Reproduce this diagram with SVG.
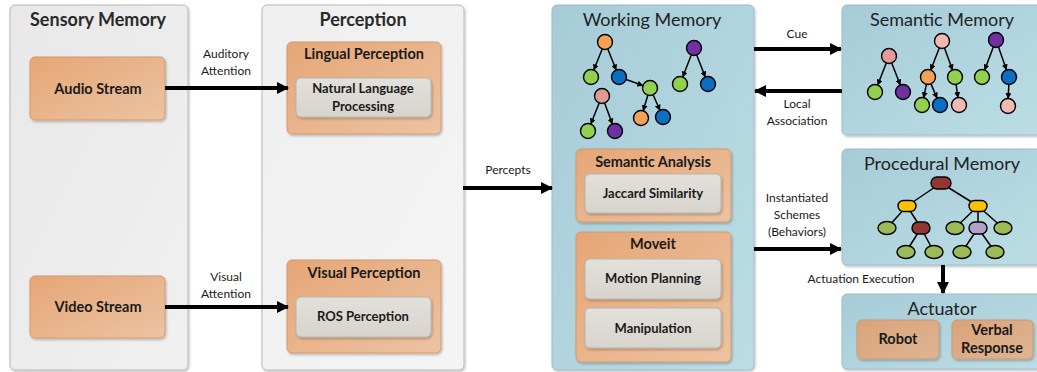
<svg xmlns="http://www.w3.org/2000/svg" width="1037" height="372" viewBox="0 0 1037 372">
<defs>
<linearGradient id="gGray" x1="0" y1="0" x2="1" y2="1"><stop offset="0" stop-color="#e8e8e8"/><stop offset="1" stop-color="#f0f0f0"/></linearGradient>
<linearGradient id="gLight" x1="0" y1="0" x2="1" y2="1"><stop offset="0" stop-color="#efefef"/><stop offset="1" stop-color="#f4f4f4"/></linearGradient>
<linearGradient id="gOrange" x1="0" y1="0" x2="1" y2="1"><stop offset="0" stop-color="#e6a676"/><stop offset="1" stop-color="#ecc3a2"/></linearGradient>
<linearGradient id="gOrange2" x1="0" y1="0" x2="1" y2="1"><stop offset="0" stop-color="#d9a37a"/><stop offset="1" stop-color="#dfb592"/></linearGradient>
<linearGradient id="gInner" x1="0" y1="0" x2="0" y2="1"><stop offset="0" stop-color="#e2e0da"/><stop offset="1" stop-color="#d6d4cc"/></linearGradient>
<linearGradient id="gBlue" x1="0" y1="0" x2="1" y2="1"><stop offset="0" stop-color="#a6ccd8"/><stop offset="1" stop-color="#bcdde5"/></linearGradient>
<filter id="sh" x="-10%" y="-10%" width="120%" height="130%"><feDropShadow dx="1" dy="1.5" stdDeviation="1" flood-color="#000" flood-opacity="0.25"/></filter>
<marker id="big" viewBox="0 0 12 12" refX="11" refY="6" markerWidth="12" markerHeight="12" markerUnits="userSpaceOnUse" orient="auto"><path d="M0,0 L12,6 L0,12 Z" fill="#000"/></marker>
<marker id="sm" viewBox="0 0 6 6" refX="5.5" refY="3" markerWidth="6" markerHeight="6" markerUnits="userSpaceOnUse" orient="auto"><path d="M0,0 L6,3 L0,6 Z" fill="#000"/></marker>
</defs>
<style>
.panel{stroke:#b8b8b8;stroke-width:1;filter:url(#sh)}
.bpanel{stroke:#9fbcc6;stroke-width:1;filter:url(#sh)}
.obox{fill:url(#gOrange);stroke:#d19a72;stroke-width:1;filter:url(#sh)}
.obox2{fill:url(#gOrange2);stroke:#c99a78;stroke-width:1;filter:url(#sh)}
.ibox{fill:url(#gInner);stroke:#b8b6ae;stroke-width:1;filter:url(#sh)}
text{font-family:Lato,"Liberation Sans",sans-serif;fill:#1a1a1a;text-anchor:middle}
.ttl{font-size:18px;font-weight:bold;fill:#2a2a2a}
.ttl2{font-size:18px;fill:#222}
.sub{font-size:14.5px;font-weight:bold}
.in{font-size:13px;font-weight:bold}
.lbl{font-size:12px}
.conn{stroke:#000;stroke-width:4;fill:none;marker-end:url(#big)}
.ta{stroke:#000;stroke-width:1.5;fill:none;marker-end:url(#sm)}
.tl{stroke:#000;stroke-width:1.5;fill:none}
.n{stroke:#000;stroke-width:1.4}
.or{fill:#f4a055}.gr{fill:#92d050}.bl{fill:#0a6fc2}.pu{fill:#7030a0}.pk{fill:#e39a96}.pk2{fill:#f2b8b4}
.pg{fill:#9bbb59}.pr{fill:#943634}.py{fill:#ffc000}.pv{fill:#b2a1c7}
</style>

<g id="sensory-memory">
<rect class="panel" x="10" y="5" width="178" height="365" rx="5" fill="url(#gGray)"/>
<text class="ttl" x="98" y="26">Sensory Memory</text>
</g>
<g id="audio-stream">
<rect class="obox" x="30" y="57" width="135" height="63" rx="5"/>
<text class="sub" x="98" y="94">Audio Stream</text>
</g>
<g id="video-stream">
<rect class="obox" x="30" y="276" width="135" height="62" rx="5"/>
<text class="sub" x="98" y="312">Video Stream</text>
</g>

<g id="perception">
<rect class="panel" x="262" y="5" width="202" height="365" rx="5" fill="url(#gLight)"/>
<text class="ttl" x="363" y="26">Perception</text>
</g>
<g id="lingual-perception">
<rect class="obox" x="287" y="42" width="154" height="92" rx="5"/>
<text class="sub" x="364" y="59">Lingual Perception</text>
</g>
<g id="nlp">
<rect class="ibox" x="296" y="78" width="135" height="39" rx="5"/>
<text class="in" x="363" y="93">Natural Language</text>
<text class="in" x="363" y="111">Processing</text>
</g>
<g id="visual-perception">
<rect class="obox" x="287" y="260" width="154" height="93" rx="5"/>
<text class="sub" x="364" y="278">Visual Perception</text>
</g>
<g id="ros-perception">
<rect class="ibox" x="296" y="297" width="135" height="40" rx="5"/>
<text class="in" x="363" y="321">ROS Perception</text>
</g>

<g id="working-memory">
<rect class="bpanel" x="552" y="5" width="202" height="365" rx="5" fill="url(#gBlue)"/>
<text class="ttl2" x="652" y="26">Working Memory</text>
<g id="wm-trees">
<path class="ta" d="M602.2,49 L593.8,70"/>
<path class="ta" d="M607.8,49 L616.2,70"/>
<path class="ta" d="M626.1,79.5 L642.9,85.5"/>
<path class="ta" d="M647.8,95.2 L643.2,110.8"/>
<path class="ta" d="M653.1,94.8 L659.9,110.2"/>
<path class="ta" d="M599.2,103 L590.8,124"/>
<path class="ta" d="M604.6,103 L612.4,124"/>
<path class="ta" d="M691.3,55 L682.7,77"/>
<path class="ta" d="M696.7,55 L705.3,77"/>
<circle class="n or" cx="605" cy="42" r="7.5"/>
<circle class="n gr" cx="591" cy="77" r="7.5"/>
<circle class="n bl" cx="619" cy="77" r="7.5"/>
<circle class="n gr" cx="650" cy="88" r="7.5"/>
<circle class="n or" cx="641" cy="118" r="7.5"/>
<circle class="n bl" cx="663" cy="117" r="7.5"/>
<circle class="n pk" cx="602" cy="96" r="7.5"/>
<circle class="n gr" cx="588" cy="131" r="7.5"/>
<circle class="n pu" cx="615" cy="131" r="7.5"/>
<circle class="n pu" cx="694" cy="48" r="7.5"/>
<circle class="n gr" cx="680" cy="84" r="7.5"/>
<circle class="n bl" cx="708" cy="84" r="7.5"/>
</g>
</g>
<g id="semantic-analysis">
<rect class="obox" x="576" y="149" width="155" height="73" rx="5"/>
<text class="sub" x="653" y="167">Semantic Analysis</text>
</g>
<g id="jaccard">
<rect class="ibox" x="585" y="174" width="136" height="39" rx="5"/>
<text class="in" x="653" y="198">Jaccard Similarity</text>
</g>
<g id="moveit">
<rect class="obox" x="576" y="232" width="155" height="130" rx="5"/>
<text class="sub" x="653" y="249">Moveit</text>
</g>
<g id="motion-planning">
<rect class="ibox" x="585" y="259" width="136" height="40" rx="5"/>
<text class="in" x="653" y="283">Motion Planning</text>
</g>
<g id="manipulation">
<rect class="ibox" x="585" y="308" width="136" height="40" rx="5"/>
<text class="in" x="653" y="333">Manipulation</text>
</g>

<g id="semantic-memory">
<rect class="bpanel" x="842" y="5" width="205" height="130" rx="5" fill="url(#gBlue)"/>
<text class="ttl2" x="942" y="26">Semantic Memory</text>
<g id="sm-trees">
<path class="ta" d="M886.3,63 L877.7,85"/>
<path class="ta" d="M891.7,63 L900.3,85"/>
<path class="ta" d="M939.3,48 L930.7,70"/>
<path class="ta" d="M944.5,48 L952.5,70"/>
<path class="ta" d="M926.4,84.3 L923.6,97.7"/>
<path class="ta" d="M931,83.9 L937,98.1"/>
<path class="ta" d="M956.1,84.4 L957.9,97.6"/>
<path class="ta" d="M993.3,47 L984.7,70"/>
<path class="ta" d="M998.5,47.1 L1006.5,69.9"/>
<path class="ta" d="M1008.9,84.5 L1008.1,98.5"/>
<circle class="n pk" cx="889" cy="56" r="7.5"/>
<circle class="n gr" cx="875" cy="92" r="7.5"/>
<circle class="n pu" cx="903" cy="92" r="7.5"/>
<circle class="n pk2" cx="942" cy="41" r="7.5"/>
<circle class="n or" cx="928" cy="77" r="7.5"/>
<circle class="n gr" cx="955" cy="77" r="7.5"/>
<circle class="n gr" cx="922" cy="105" r="7.5"/>
<circle class="n bl" cx="940" cy="105" r="7.5"/>
<circle class="n pk2" cx="959" cy="105" r="7.5"/>
<circle class="n pu" cx="996" cy="40" r="7.5"/>
<circle class="n gr" cx="982" cy="77" r="7.5"/>
<circle class="n bl" cx="1009" cy="77" r="7.5"/>
<circle class="n pk2" cx="1008" cy="106" r="7.5"/>
</g>
</g>

<g id="procedural-memory">
<rect class="bpanel" x="842" y="149" width="205" height="116" rx="5" fill="url(#gBlue)"/>
<text class="ttl2" x="942" y="170">Procedural Memory</text>
<g id="pm-tree">
<path class="tl" d="M941,183 L907,206 M941,183 L978,206 M907,206 L887,228 M907,206 L921,228 M978,206 L955,228 M978,206 L978,228 M978,206 L1003,228 M921,228 L906,252 M921,228 L934,252 M978,228 L962,252 M978,228 L995,252"/>
<rect class="n pr" x="931" y="177" width="20" height="12" rx="6"/>
<rect class="n py" x="898" y="200.5" width="18" height="11" rx="5.5"/>
<rect class="n py" x="969" y="200.5" width="18" height="11" rx="5.5"/>
<ellipse class="n pg" cx="887" cy="228" rx="9" ry="6.5"/>
<rect class="n pr" x="912" y="222" width="18" height="12" rx="6"/>
<ellipse class="n pg" cx="955" cy="228" rx="9" ry="6.5"/>
<rect class="n pv" x="969" y="222" width="18" height="12" rx="6"/>
<ellipse class="n pg" cx="1003" cy="228" rx="9" ry="6.5"/>
<ellipse class="n pg" cx="906" cy="252" rx="9" ry="6.5"/>
<ellipse class="n pg" cx="934" cy="252" rx="9" ry="6.5"/>
<ellipse class="n pg" cx="962" cy="252" rx="9" ry="6.5"/>
<ellipse class="n pg" cx="995" cy="252" rx="9" ry="6.5"/>
</g>
</g>

<g id="actuator">
<rect class="bpanel" x="842" y="294" width="205" height="75" rx="5" fill="url(#gBlue)"/>
<text class="ttl2" x="942" y="315">Actuator</text>
</g>
<g id="robot">
<rect class="obox2" x="857" y="320" width="82" height="39" rx="5"/>
<text class="sub" x="898" y="344">Robot</text>
</g>
<g id="verbal-response">
<rect class="obox2" x="952" y="320" width="81" height="39" rx="5"/>
<text class="sub" x="992" y="335">Verbal</text>
<text class="sub" x="992" y="353">Response</text>
</g>

<g id="connectors">
<path class="conn" d="M165,88 L288,88"/>
<text class="lbl" x="226" y="58">Auditory</text>
<text class="lbl" x="226" y="75">Attention</text>
<path class="conn" d="M165,307 L288,307"/>
<text class="lbl" x="226" y="281">Visual</text>
<text class="lbl" x="226" y="298">Attention</text>
<path class="conn" d="M463,188 L552,188"/>
<text class="lbl" x="508" y="174">Percepts</text>
<path class="conn" d="M754,49 L841,49"/>
<text class="lbl" x="797" y="38">Cue</text>
<path class="conn" d="M842,91 L755,91"/>
<text class="lbl" x="797" y="108">Local</text>
<text class="lbl" x="797" y="125">Association</text>
<path class="conn" d="M754,249 L841,249"/>
<text class="lbl" x="797" y="202">Instantiated</text>
<text class="lbl" x="797" y="219">Schemes</text>
<text class="lbl" x="797" y="236">(Behaviors)</text>
<path class="conn" d="M943,265 L943,293"/>
<text class="lbl" x="861" y="283">Actuation Execution</text>
</g>
</svg>
